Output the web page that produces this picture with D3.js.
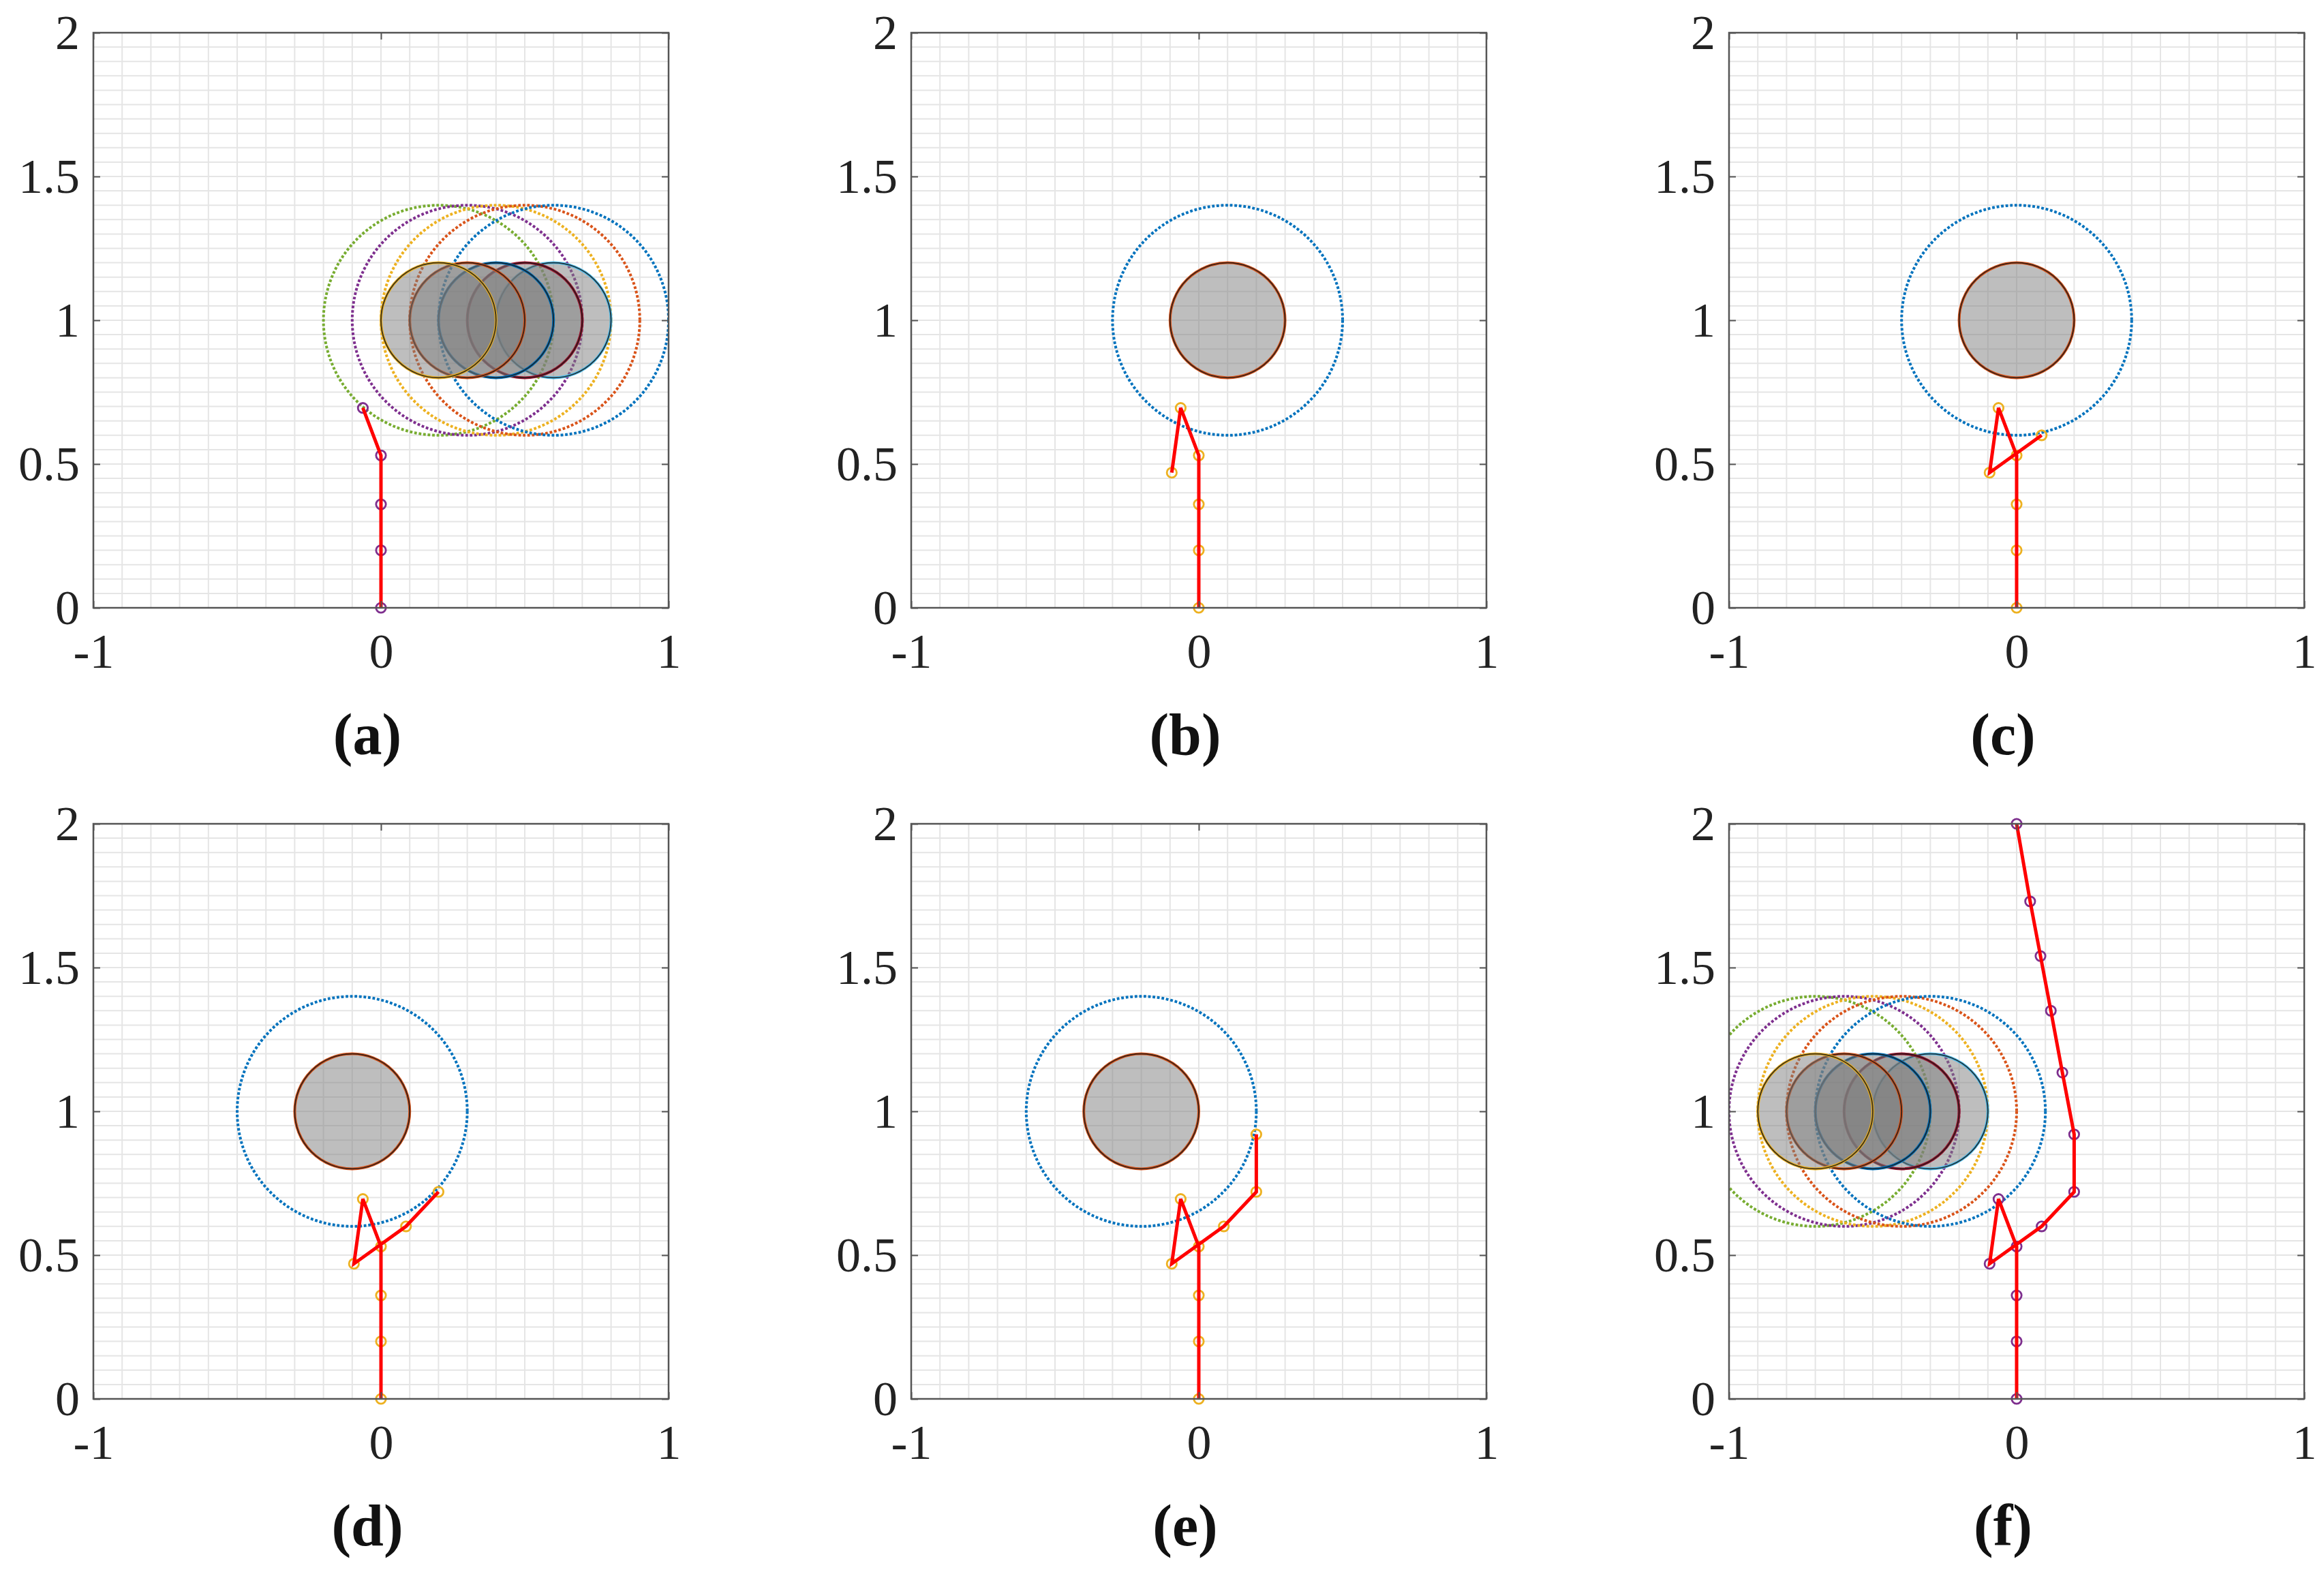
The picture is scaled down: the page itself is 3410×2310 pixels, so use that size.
<!DOCTYPE html>
<html>
<head>
<meta charset="utf-8">
<script src="https://cdn.jsdelivr.net/npm/d3@7"></script>
<style>
  html, body { margin: 0; padding: 0; background: #ffffff; }
  svg { display: block; }
</style>
</head>
<body>
<svg id="chart" width="3410" height="2310"></svg>
<script>
// ---------------- data ----------------
const panelLabels = ["(a)", "(b)", "(c)", "(d)", "(e)", "(f)"];
// manipulator joint positions (full chain, shown progressively)
const armX = [0, 0, 0, 0, -0.063, -0.094, 0.087, 0.2, 0.2, 0.159, 0.119, 0.083, 0.047, 0];
const armY = [0, 0.2, 0.36, 0.53, 0.695, 0.47, 0.6, 0.72, 0.92, 1.135, 1.35, 1.54, 1.73, 2.0];
const armCount = [5, 6, 7, 8, 9, 14];
const markerKind = ["purple", "yellow", "yellow", "yellow", "yellow", "purple"];
// obstacle centre x-positions (y = 1) per panel
const obstacleX = [
  [0.2, 0.3, 0.4, 0.5, 0.6],
  [0.1],
  [0.0],
  [-0.1],
  [-0.2],
  [-0.7, -0.6, -0.5, -0.4, -0.3]
];
const obstacleY = 1;
const obstacleR = 0.2;
const safetyR = 0.4;
const xTicks = [-1, 0, 1];
const yTicks = [0, 0.5, 1, 1.5, 2];
const xDomain = [-1, 1];
const yDomain = [0, 2];

// ---------------- styles ----------------
const colors = {
  blue: "#0072BD", orange: "#D95319", yellow: "#EDB120", purple: "#7E2F8E",
  green: "#77AC30", light: "#4DBEEE", darkred: "#A2142F"
};
const dottedSeq = ["green", "purple", "yellow", "orange", "blue"];
const edgeSeq = ["yellow", "orange", "blue", "darkred", "light"];

const colLeft = [137, 1337, 2537];
const rowTop = [48, 1209];
const W = 844, H = 844;

const svg = d3.select("#chart");

panelLabels.forEach((lab, i) => {
  const col = i % 3, row = Math.floor(i / 3);
  const g = svg.append("g").attr("transform", `translate(${colLeft[col]},${rowTop[row]})`);
  const x = d3.scaleLinear().domain(xDomain).range([0, W]);
  const y = d3.scaleLinear().domain(yDomain).range([H, 0]);
  const unit = x(1) - x(0);

  const clipId = "clip" + i;
  g.append("clipPath").attr("id", clipId)
    .append("rect").attr("x", 0).attr("y", 0).attr("width", W).attr("height", H);

  // grid
  const gx = d3.range(-10, 11).map(k => k / 10);
  const gy = d3.range(0, 41).map(k => k / 20);
  g.append("g").selectAll("line.gx").data(gx).join("line")
    .attr("x1", d => x(d)).attr("x2", d => x(d)).attr("y1", 0).attr("y2", H)
    .attr("stroke", "#e5e5e5").attr("stroke-width", 2);
  g.append("g").selectAll("line.gy").data(gy).join("line")
    .attr("y1", d => y(d)).attr("y2", d => y(d)).attr("x1", 0).attr("x2", W)
    .attr("stroke", "#e5e5e5").attr("stroke-width", 2);

  const obs = obstacleX[i];
  const plot = g.append("g").attr("clip-path", `url(#${clipId})`);

  // safety (dotted) circles
  plot.selectAll("circle.safe").data(obs).join("circle")
    .attr("cx", d => x(d)).attr("cy", y(obstacleY)).attr("r", safetyR * unit)
    .attr("fill", "none")
    .attr("stroke", (d, k) => colors[obs.length > 1 ? dottedSeq[k] : "blue"])
    .attr("stroke-width", 4)
    .attr("stroke-dasharray", "3.8 2.8");

  // obstacles (draw right-most first so left-most ends on top)
  const order = obs.map((d, k) => k).reverse();
  order.forEach(k => {
    const cx = x(obs[k]);
    const ec = colors[obs.length > 1 ? edgeSeq[k] : "orange"];
    plot.append("circle").attr("cx", cx).attr("cy", y(obstacleY)).attr("r", obstacleR * unit)
      .attr("fill", "rgba(125,125,125,0.5)")
      .attr("stroke", ec).attr("stroke-width", 4);
    plot.append("circle").attr("cx", cx).attr("cy", y(obstacleY)).attr("r", obstacleR * unit)
      .attr("fill", "none").attr("stroke", "#1a1a1a").attr("stroke-width", 1.8).attr("stroke-opacity", 0.85);
  });

  // manipulator
  const n = armCount[i];
  const pts = d3.range(n).map(k => [armX[k], armY[k]]);
  const mc = colors[markerKind[i]];
  g.append("g").selectAll("circle.m").data(pts).join("circle")
    .attr("cx", d => x(d[0])).attr("cy", d => y(d[1])).attr("r", 7.2)
    .attr("fill", "none").attr("stroke", mc).attr("stroke-width", 2.8);
  const line = d3.line().x(d => x(d[0])).y(d => y(d[1]));
  g.append("path").datum(pts).attr("d", line)
    .attr("fill", "none").attr("stroke", "#ff0000").attr("stroke-width", 5)
    .attr("stroke-linejoin", "miter");

  // axes
  const fontFam = "'Liberation Serif', 'Times New Roman', serif";
  const axB = g.append("g").attr("transform", `translate(0,${H})`)
    .call(d3.axisBottom(x).tickValues(xTicks).tickFormat(d => String(d))
      .tickSizeInner(-10).tickSizeOuter(0).tickPadding(37));
  const axL = g.append("g")
    .call(d3.axisLeft(y).tickValues(yTicks).tickFormat(d => String(d))
      .tickSizeInner(-10).tickSizeOuter(0).tickPadding(20));
  const axT = g.append("g")
    .call(d3.axisTop(x).tickValues(xTicks).tickFormat("").tickSizeInner(-10).tickSizeOuter(0));
  const axR = g.append("g").attr("transform", `translate(${W},0)`)
    .call(d3.axisRight(y).tickValues(yTicks).tickFormat("").tickSizeInner(-10).tickSizeOuter(0));
  [axB, axL, axT, axR].forEach(a => {
    a.select(".domain").remove();
    a.selectAll(".tick line").attr("stroke", "#555555").attr("stroke-width", 2);
    a.selectAll("text").attr("font-family", fontFam).attr("font-size", 72).attr("fill", "#222222");
  });
  axB.selectAll("text").attr("dy", "0.71em");
  axL.selectAll("text").attr("dy", "0.32em");

  // box
  g.append("rect").attr("x", 0).attr("y", 0).attr("width", W).attr("height", H)
    .attr("fill", "none").attr("stroke", "#555555").attr("stroke-width", 2.5);

  // panel label
  g.append("text").attr("x", W / 2 - 20).attr("y", H + 215)
    .attr("text-anchor", "middle")
    .attr("font-family", fontFam).attr("font-weight", "bold").attr("font-size", 86)
    .attr("fill", "#111111").text(lab);
});
</script>
</body>
</html>
